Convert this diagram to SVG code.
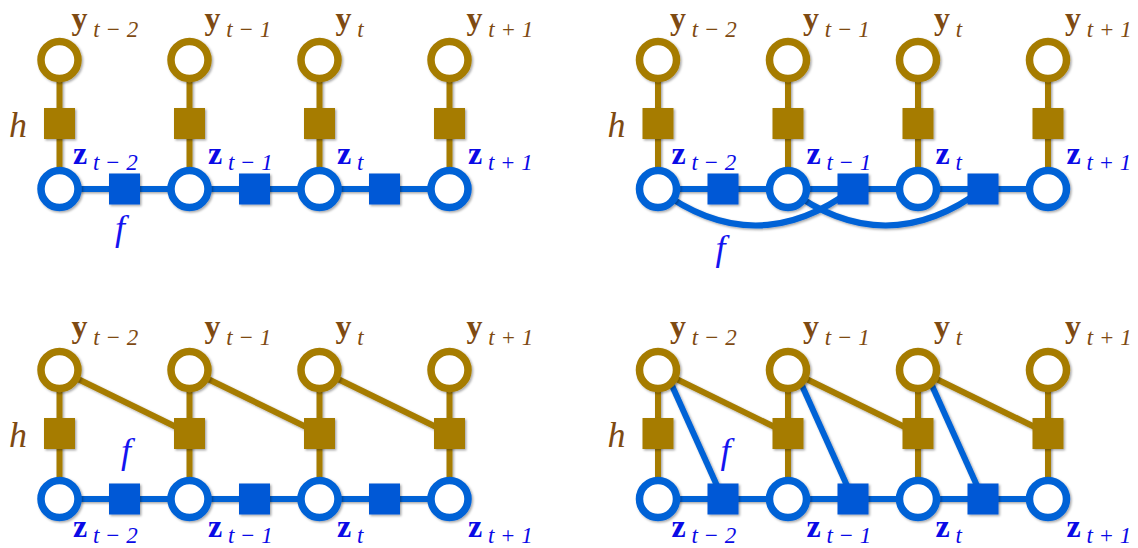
<svg xmlns="http://www.w3.org/2000/svg" width="1138" height="548" viewBox="0 0 1138 548">
<defs>
<filter id="sh" filterUnits="userSpaceOnUse" x="-100" y="-100" width="1400" height="800">
<feDropShadow dx="1.4" dy="1.4" stdDeviation="1.2" flood-color="#000" flood-opacity="0.35"/>
</filter>
<style>
.yn{fill:#fff;stroke:#A67C00;stroke-width:7.5}
.zn{fill:#fff;stroke:#0062D6;stroke-width:7.5}
.hs{fill:#A67C00}
.fs{fill:#0058D6}
.gl{stroke:#A67C00;stroke-width:6;fill:none}
.bl{stroke:#0062D6;stroke-width:6;fill:none}
.node{filter:url(#sh)}
.conn{filter:url(#sh)}
.yl{font-family:"Liberation Serif",serif;font-weight:bold;font-size:32px;fill:#7E4A12}
.zl{font-family:"Liberation Serif",serif;font-weight:bold;font-size:32px;fill:#0A0AE6}
.sub{font-weight:normal;font-style:italic;font-size:23px}
.hl{font-family:"Liberation Serif",serif;font-style:italic;font-size:36px;fill:#7E4A12}
.fl{font-family:"Liberation Serif",serif;font-style:italic;font-size:36px;fill:#1414F0}
</style>
</defs>

<!-- ===== Panel top-left ===== -->
<g id="panel-tl">
<g id="tl-connectors" class="conn">
<line class="gl" x1="59.5" y1="60" x2="59.5" y2="189"/>
<line class="gl" x1="189.5" y1="60" x2="189.5" y2="189"/>
<line class="gl" x1="319.5" y1="60" x2="319.5" y2="189"/>
<line class="gl" x1="449.5" y1="60" x2="449.5" y2="189"/>
<line class="bl" x1="59.5" y1="189" x2="449.5" y2="189"/>
</g>
<g id="tl-y1" class="node"><circle class="yn" cx="59.5" cy="60" r="18.5"/></g>
<g id="tl-y2" class="node"><circle class="yn" cx="189.5" cy="60" r="18.5"/></g>
<g id="tl-y3" class="node"><circle class="yn" cx="319.5" cy="60" r="18.5"/></g>
<g id="tl-y4" class="node"><circle class="yn" cx="449.5" cy="60" r="18.5"/></g>
<g id="tl-h1" class="node"><rect class="hs" x="44" y="108" width="31" height="31"/></g>
<g id="tl-h2" class="node"><rect class="hs" x="174" y="108" width="31" height="31"/></g>
<g id="tl-h3" class="node"><rect class="hs" x="304" y="108" width="31" height="31"/></g>
<g id="tl-h4" class="node"><rect class="hs" x="434" y="108" width="31" height="31"/></g>
<g id="tl-z1" class="node"><circle class="zn" cx="59.5" cy="189" r="18.5"/></g>
<g id="tl-z2" class="node"><circle class="zn" cx="189.5" cy="189" r="18.5"/></g>
<g id="tl-z3" class="node"><circle class="zn" cx="319.5" cy="189" r="18.5"/></g>
<g id="tl-z4" class="node"><circle class="zn" cx="449.5" cy="189" r="18.5"/></g>
<g id="tl-f1" class="node"><rect class="fs" x="109" y="173.5" width="31" height="31"/></g>
<g id="tl-f2" class="node"><rect class="fs" x="239" y="173.5" width="31" height="31"/></g>
<g id="tl-f3" class="node"><rect class="fs" x="369" y="173.5" width="31" height="31"/></g>
<g id="tl-labels">
<text class="yl" x="71.5" y="29">y<tspan class="sub" dy="8"> t − 2</tspan></text>
<text class="yl" x="204.5" y="29">y<tspan class="sub" dy="8"> t − 1</tspan></text>
<text class="yl" x="335.5" y="29">y<tspan class="sub" dy="8"> t</tspan></text>
<text class="yl" x="466.5" y="29">y<tspan class="sub" dy="8"> t + 1</tspan></text>
<text class="zl" x="73" y="164">z<tspan class="sub" dy="6"> t − 2</tspan></text>
<text class="zl" x="208" y="164">z<tspan class="sub" dy="6"> t − 1</tspan></text>
<text class="zl" x="337" y="164">z<tspan class="sub" dy="6"> t</tspan></text>
<text class="zl" x="468" y="164">z<tspan class="sub" dy="6"> t + 1</tspan></text>
<text class="hl" x="9" y="137">h</text>
<text class="fl" x="115" y="240">f</text>
</g>
</g>

<!-- ===== Panel top-right ===== -->
<g id="panel-tr" transform="translate(598.5,0)">
<g id="tr-connectors" class="conn">
<line class="gl" x1="59.5" y1="60" x2="59.5" y2="189"/>
<line class="gl" x1="189.5" y1="60" x2="189.5" y2="189"/>
<line class="gl" x1="319.5" y1="60" x2="319.5" y2="189"/>
<line class="gl" x1="449.5" y1="60" x2="449.5" y2="189"/>
<line class="bl" x1="59.5" y1="189" x2="449.5" y2="189"/>
<path class="bl" d="M59.5,189 Q157,262 254.5,189"/>
<path class="bl" d="M189.5,189 Q287,262 384.5,189"/>
</g>
<g id="tr-y1" class="node"><circle class="yn" cx="59.5" cy="60" r="18.5"/></g>
<g id="tr-y2" class="node"><circle class="yn" cx="189.5" cy="60" r="18.5"/></g>
<g id="tr-y3" class="node"><circle class="yn" cx="319.5" cy="60" r="18.5"/></g>
<g id="tr-y4" class="node"><circle class="yn" cx="449.5" cy="60" r="18.5"/></g>
<g id="tr-h1" class="node"><rect class="hs" x="44" y="108" width="31" height="31"/></g>
<g id="tr-h2" class="node"><rect class="hs" x="174" y="108" width="31" height="31"/></g>
<g id="tr-h3" class="node"><rect class="hs" x="304" y="108" width="31" height="31"/></g>
<g id="tr-h4" class="node"><rect class="hs" x="434" y="108" width="31" height="31"/></g>
<g id="tr-z1" class="node"><circle class="zn" cx="59.5" cy="189" r="18.5"/></g>
<g id="tr-z2" class="node"><circle class="zn" cx="189.5" cy="189" r="18.5"/></g>
<g id="tr-z3" class="node"><circle class="zn" cx="319.5" cy="189" r="18.5"/></g>
<g id="tr-z4" class="node"><circle class="zn" cx="449.5" cy="189" r="18.5"/></g>
<g id="tr-f1" class="node"><rect class="fs" x="109" y="173.5" width="31" height="31"/></g>
<g id="tr-f2" class="node"><rect class="fs" x="239" y="173.5" width="31" height="31"/></g>
<g id="tr-f3" class="node"><rect class="fs" x="369" y="173.5" width="31" height="31"/></g>
<g id="tr-labels">
<text class="yl" x="71.5" y="29">y<tspan class="sub" dy="8"> t − 2</tspan></text>
<text class="yl" x="204.5" y="29">y<tspan class="sub" dy="8"> t − 1</tspan></text>
<text class="yl" x="335.5" y="29">y<tspan class="sub" dy="8"> t</tspan></text>
<text class="yl" x="466.5" y="29">y<tspan class="sub" dy="8"> t + 1</tspan></text>
<text class="zl" x="73" y="164">z<tspan class="sub" dy="6"> t − 2</tspan></text>
<text class="zl" x="208" y="164">z<tspan class="sub" dy="6"> t − 1</tspan></text>
<text class="zl" x="337" y="164">z<tspan class="sub" dy="6"> t</tspan></text>
<text class="zl" x="468" y="164">z<tspan class="sub" dy="6"> t + 1</tspan></text>
<text class="hl" x="9" y="137">h</text>
<text class="fl" x="117" y="260">f</text>
</g>
</g>

<!-- ===== Panel bottom-left ===== -->
<g id="panel-bl" transform="translate(0,310)">
<g id="bl-connectors" class="conn">
<line class="gl" x1="59.5" y1="60" x2="59.5" y2="189"/>
<line class="gl" x1="189.5" y1="60" x2="189.5" y2="189"/>
<line class="gl" x1="319.5" y1="60" x2="319.5" y2="189"/>
<line class="gl" x1="449.5" y1="60" x2="449.5" y2="189"/>
<line class="gl" x1="59.5" y1="60" x2="189.5" y2="123.5"/>
<line class="gl" x1="189.5" y1="60" x2="319.5" y2="123.5"/>
<line class="gl" x1="319.5" y1="60" x2="449.5" y2="123.5"/>
<line class="bl" x1="59.5" y1="189" x2="449.5" y2="189"/>
</g>
<g id="bl-y1" class="node"><circle class="yn" cx="59.5" cy="60" r="18.5"/></g>
<g id="bl-y2" class="node"><circle class="yn" cx="189.5" cy="60" r="18.5"/></g>
<g id="bl-y3" class="node"><circle class="yn" cx="319.5" cy="60" r="18.5"/></g>
<g id="bl-y4" class="node"><circle class="yn" cx="449.5" cy="60" r="18.5"/></g>
<g id="bl-h1" class="node"><rect class="hs" x="44" y="108" width="31" height="31"/></g>
<g id="bl-h2" class="node"><rect class="hs" x="174" y="108" width="31" height="31"/></g>
<g id="bl-h3" class="node"><rect class="hs" x="304" y="108" width="31" height="31"/></g>
<g id="bl-h4" class="node"><rect class="hs" x="434" y="108" width="31" height="31"/></g>
<g id="bl-z1" class="node"><circle class="zn" cx="59.5" cy="189" r="18.5"/></g>
<g id="bl-z2" class="node"><circle class="zn" cx="189.5" cy="189" r="18.5"/></g>
<g id="bl-z3" class="node"><circle class="zn" cx="319.5" cy="189" r="18.5"/></g>
<g id="bl-z4" class="node"><circle class="zn" cx="449.5" cy="189" r="18.5"/></g>
<g id="bl-f1" class="node"><rect class="fs" x="109" y="173.5" width="31" height="31"/></g>
<g id="bl-f2" class="node"><rect class="fs" x="239" y="173.5" width="31" height="31"/></g>
<g id="bl-f3" class="node"><rect class="fs" x="369" y="173.5" width="31" height="31"/></g>
<g id="bl-labels">
<text class="yl" x="71.5" y="27">y<tspan class="sub" dy="8"> t − 2</tspan></text>
<text class="yl" x="204.5" y="27">y<tspan class="sub" dy="8"> t − 1</tspan></text>
<text class="yl" x="335.5" y="27">y<tspan class="sub" dy="8"> t</tspan></text>
<text class="yl" x="466.5" y="27">y<tspan class="sub" dy="8"> t + 1</tspan></text>
<text class="zl" x="73" y="227">z<tspan class="sub" dy="5.5"> t − 2</tspan></text>
<text class="zl" x="208" y="227">z<tspan class="sub" dy="5.5"> t − 1</tspan></text>
<text class="zl" x="337" y="227">z<tspan class="sub" dy="5.5"> t</tspan></text>
<text class="zl" x="468" y="227">z<tspan class="sub" dy="5.5"> t + 1</tspan></text>
<text class="hl" x="9" y="137">h</text>
<text class="fl" x="121" y="153">f</text>
</g>
</g>

<!-- ===== Panel bottom-right ===== -->
<g id="panel-br" transform="translate(598.5,310)">
<g id="br-connectors" class="conn">
<line class="gl" x1="59.5" y1="60" x2="59.5" y2="189"/>
<line class="gl" x1="189.5" y1="60" x2="189.5" y2="189"/>
<line class="gl" x1="319.5" y1="60" x2="319.5" y2="189"/>
<line class="gl" x1="449.5" y1="60" x2="449.5" y2="189"/>
<line class="gl" x1="59.5" y1="60" x2="189.5" y2="123.5"/>
<line class="gl" x1="189.5" y1="60" x2="319.5" y2="123.5"/>
<line class="gl" x1="319.5" y1="60" x2="449.5" y2="123.5"/>
<line class="bl" x1="59.5" y1="189" x2="449.5" y2="189"/>
<line class="bl" x1="66.5" y1="60" x2="124.5" y2="189"/>
<line class="bl" x1="196.5" y1="60" x2="254.5" y2="189"/>
<line class="bl" x1="326.5" y1="60" x2="384.5" y2="189"/>
</g>
<g id="br-y1" class="node"><circle class="yn" cx="59.5" cy="60" r="18.5"/></g>
<g id="br-y2" class="node"><circle class="yn" cx="189.5" cy="60" r="18.5"/></g>
<g id="br-y3" class="node"><circle class="yn" cx="319.5" cy="60" r="18.5"/></g>
<g id="br-y4" class="node"><circle class="yn" cx="449.5" cy="60" r="18.5"/></g>
<g id="br-h1" class="node"><rect class="hs" x="44" y="108" width="31" height="31"/></g>
<g id="br-h2" class="node"><rect class="hs" x="174" y="108" width="31" height="31"/></g>
<g id="br-h3" class="node"><rect class="hs" x="304" y="108" width="31" height="31"/></g>
<g id="br-h4" class="node"><rect class="hs" x="434" y="108" width="31" height="31"/></g>
<g id="br-z1" class="node"><circle class="zn" cx="59.5" cy="189" r="18.5"/></g>
<g id="br-z2" class="node"><circle class="zn" cx="189.5" cy="189" r="18.5"/></g>
<g id="br-z3" class="node"><circle class="zn" cx="319.5" cy="189" r="18.5"/></g>
<g id="br-z4" class="node"><circle class="zn" cx="449.5" cy="189" r="18.5"/></g>
<g id="br-f1" class="node"><rect class="fs" x="109" y="173.5" width="31" height="31"/></g>
<g id="br-f2" class="node"><rect class="fs" x="239" y="173.5" width="31" height="31"/></g>
<g id="br-f3" class="node"><rect class="fs" x="369" y="173.5" width="31" height="31"/></g>
<g id="br-labels">
<text class="yl" x="71.5" y="27">y<tspan class="sub" dy="8"> t − 2</tspan></text>
<text class="yl" x="204.5" y="27">y<tspan class="sub" dy="8"> t − 1</tspan></text>
<text class="yl" x="335.5" y="27">y<tspan class="sub" dy="8"> t</tspan></text>
<text class="yl" x="466.5" y="27">y<tspan class="sub" dy="8"> t + 1</tspan></text>
<text class="zl" x="73" y="227">z<tspan class="sub" dy="5.5"> t − 2</tspan></text>
<text class="zl" x="208" y="227">z<tspan class="sub" dy="5.5"> t − 1</tspan></text>
<text class="zl" x="337" y="227">z<tspan class="sub" dy="5.5"> t</tspan></text>
<text class="zl" x="468" y="227">z<tspan class="sub" dy="5.5"> t + 1</tspan></text>
<text class="hl" x="9" y="137">h</text>
<text class="fl" x="122" y="153">f</text>
</g>
</g>
</svg>
